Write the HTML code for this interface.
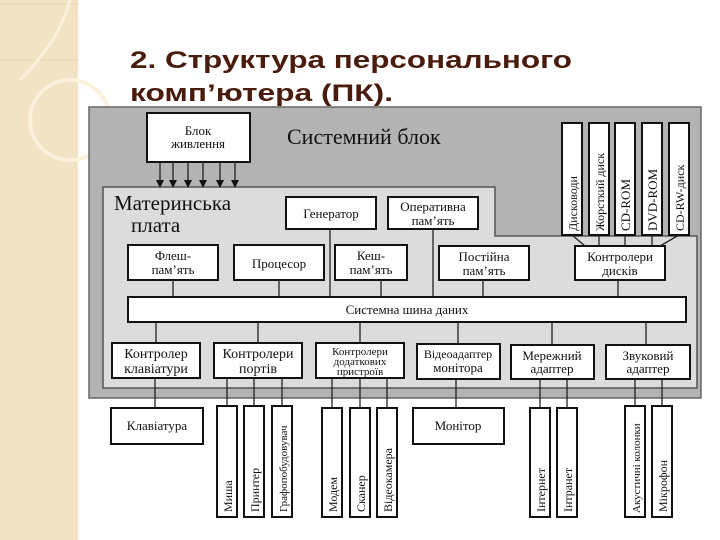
<!DOCTYPE html>
<html><head><meta charset="utf-8"><style>
html,body{margin:0;padding:0;background:#fff;}
svg{display:block;}
text{font-family:"Liberation Serif",serif;fill:#111;}
.t{font-family:"Liberation Sans",sans-serif;font-weight:bold;fill:#4a1c0e;font-size:24px;}
</style></head><body>
<svg width="720" height="540" viewBox="0 0 720 540" xmlns="http://www.w3.org/2000/svg">
<rect x="0" y="0" width="78" height="540" fill="#f1e3c3"/>
<g stroke="#e6d4ac" stroke-width="1">
<line x1="0" y1="4" x2="78" y2="4"/><line x1="0" y1="60" x2="78" y2="60"/>
</g>
<path d="M20 80 Q60 40 70 0" stroke="#fbf1dc" stroke-width="3" fill="none"/>
<circle cx="70" cy="120" r="40" stroke="#fbf1dc" stroke-width="4" fill="none"/>
<text class="t" x="130" y="68" textLength="442" lengthAdjust="spacingAndGlyphs">2. Структура персонального</text>
<text class="t" x="130" y="101" textLength="263" lengthAdjust="spacingAndGlyphs">комп’ютера (ПК).</text>

<rect x="89" y="107" width="612" height="291" fill="#b3b3b3" stroke="#666" stroke-width="1.5"/>
<path d="M103 187 H495 V236 H697 V388 H103 Z" fill="#dcdcdc" stroke="#555" stroke-width="1.5"/>
<text x="287" y="144" font-size="22">Системний блок</text>
<text x="114" y="210" font-size="21">Материнська</text>
<text x="131" y="232" font-size="21">плата</text>

<g stroke="#111" stroke-width="2" fill="#fff">
<rect x="147" y="113" width="103" height="49"/>
<rect x="286" y="197" width="90" height="32"/>
<rect x="388" y="197" width="90" height="32"/>
<rect x="562" y="123" width="20" height="112"/>
<rect x="589" y="123" width="20" height="112"/>
<rect x="615" y="123" width="20" height="112"/>
<rect x="642" y="123" width="20" height="112"/>
<rect x="669" y="123" width="20" height="112"/>
<rect x="128" y="245" width="90" height="35"/>
<rect x="234" y="245" width="90" height="35"/>
<rect x="335" y="245" width="72" height="35"/>
<rect x="439" y="246" width="90" height="34"/>
<rect x="575" y="246" width="90" height="34"/>
<rect x="128" y="297" width="558" height="25"/>
<rect x="112" y="343" width="88" height="35"/>
<rect x="214" y="343" width="88" height="35"/>
<rect x="316" y="343" width="88" height="35"/>
<rect x="417" y="344" width="83" height="35"/>
<rect x="511" y="345" width="83" height="34"/>
<rect x="606" y="345" width="84" height="34"/>
<rect x="111" y="408" width="92" height="36"/>
<rect x="217" y="406" width="20" height="111"/>
<rect x="244" y="406" width="20" height="111"/>
<rect x="272" y="406" width="20" height="111"/>
<rect x="322" y="408" width="20" height="109"/>
<rect x="350" y="408" width="20" height="109"/>
<rect x="377" y="408" width="20" height="109"/>
<rect x="413" y="408" width="91" height="36"/>
<rect x="530" y="408" width="20" height="109"/>
<rect x="557" y="408" width="20" height="109"/>
<rect x="625" y="406" width="20" height="111"/>
<rect x="652" y="406" width="20" height="111"/>
</g>

<g stroke="#222" stroke-width="1.3" fill="none">
<line x1="173" y1="280" x2="173" y2="297"/>
<line x1="279" y1="280" x2="279" y2="297"/>
<line x1="330" y1="229" x2="330" y2="297"/>
<line x1="381" y1="280" x2="381" y2="297"/>
<line x1="433" y1="229" x2="433" y2="297"/>
<line x1="483" y1="280" x2="483" y2="297"/>
<line x1="618" y1="280" x2="618" y2="297"/>
<line x1="572" y1="235" x2="585" y2="246"/>
<line x1="599" y1="235" x2="599" y2="246"/>
<line x1="625" y1="235" x2="625" y2="246"/>
<line x1="652" y1="235" x2="652" y2="246"/>
<line x1="679" y1="235" x2="660" y2="246"/>
<line x1="156" y1="322" x2="156" y2="343"/>
<line x1="258" y1="322" x2="258" y2="343"/>
<line x1="360" y1="322" x2="360" y2="343"/>
<line x1="458" y1="322" x2="458" y2="344"/>
<line x1="552" y1="322" x2="552" y2="345"/>
<line x1="646" y1="322" x2="646" y2="345"/>
<line x1="155" y1="378" x2="155" y2="408"/>
<line x1="227" y1="378" x2="227" y2="406"/>
<line x1="254" y1="378" x2="254" y2="406"/>
<line x1="282" y1="378" x2="282" y2="406"/>
<line x1="332" y1="378" x2="332" y2="408"/>
<line x1="360" y1="378" x2="360" y2="408"/>
<line x1="387" y1="378" x2="387" y2="408"/>
<line x1="456" y1="379" x2="456" y2="408"/>
<line x1="540" y1="379" x2="540" y2="408"/>
<line x1="567" y1="379" x2="567" y2="408"/>
<line x1="635" y1="379" x2="635" y2="406"/>
<line x1="662" y1="379" x2="662" y2="406"/>
<line x1="160" y1="162" x2="160" y2="183"/>
<line x1="173" y1="162" x2="173" y2="183"/>
<line x1="188" y1="162" x2="188" y2="183"/>
<line x1="203" y1="162" x2="203" y2="183"/>
<line x1="220" y1="162" x2="220" y2="183"/>
<line x1="235" y1="162" x2="235" y2="183"/>
</g>
<g fill="#111">
<path d="M156 180 h8 l-4 8z"/><path d="M169 180 h8 l-4 8z"/><path d="M184 180 h8 l-4 8z"/>
<path d="M199 180 h8 l-4 8z"/><path d="M216 180 h8 l-4 8z"/><path d="M231 180 h8 l-4 8z"/>
</g>

<g font-size="13" text-anchor="middle">
<text x="198" y="135">Блок</text><text x="198" y="148">живлення</text>
<text x="331" y="218">Генератор</text>
<text x="433" y="211">Оперативна</text><text x="433" y="225">пам’ять</text>
<text x="173" y="260">Флеш-</text><text x="173" y="274">пам’ять</text>
<text x="279" y="268">Процесор</text>
<text x="371" y="260">Кеш-</text><text x="371" y="274">пам’ять</text>
<text x="484" y="261">Постійна</text><text x="484" y="275">пам’ять</text>
<text x="620" y="261">Контролери</text><text x="620" y="275">дисків</text>
<text x="407" y="314">Системна шина даних</text>
<text x="156" y="358" font-size="14">Контролер</text><text x="156" y="373" font-size="14">клавіатури</text>
<text x="258" y="358" font-size="14">Контролери</text><text x="258" y="373" font-size="14">портів</text>
<text x="360" y="355" font-size="11">Контролери</text><text x="360" y="365" font-size="11">додаткових</text><text x="360" y="375" font-size="11">пристроїв</text>
<text x="458" y="358" font-size="12">Відеоадаптер</text><text x="458" y="372">монітора</text>
<text x="552" y="360">Мережний</text><text x="552" y="373">адаптер</text>
<text x="648" y="360">Звуковий</text><text x="648" y="373">адаптер</text>
<text x="157" y="430">Клавіатура</text>
<text x="458" y="430">Монітор</text>
</g>
<g font-size="12">
<text transform="translate(577,231) rotate(-90)">Дисководи</text>
<text transform="translate(604,231) rotate(-90)">Жорсткий диск</text>
<text transform="translate(630,231) rotate(-90)" font-size="13">CD-ROM</text>
<text transform="translate(657,231) rotate(-90)" font-size="13">DVD-ROM</text>
<text transform="translate(684,231) rotate(-90)">CD-RW-диск</text>
<text transform="translate(232,512) rotate(-90)">Миша</text>
<text transform="translate(259,512) rotate(-90)">Принтер</text>
<text transform="translate(287,512) rotate(-90)" font-size="11">Графопобудовувач</text>
<text transform="translate(337,512) rotate(-90)">Модем</text>
<text transform="translate(365,512) rotate(-90)">Сканер</text>
<text transform="translate(392,512) rotate(-90)">Відеокамера</text>
<text transform="translate(545,512) rotate(-90)">Інтернет</text>
<text transform="translate(572,512) rotate(-90)">Інтранет</text>
<text transform="translate(640,513) rotate(-90)" font-size="11">Акустичні колонки</text>
<text transform="translate(667,512) rotate(-90)">Мікрофон</text>
</g>
</svg>
</body></html>
